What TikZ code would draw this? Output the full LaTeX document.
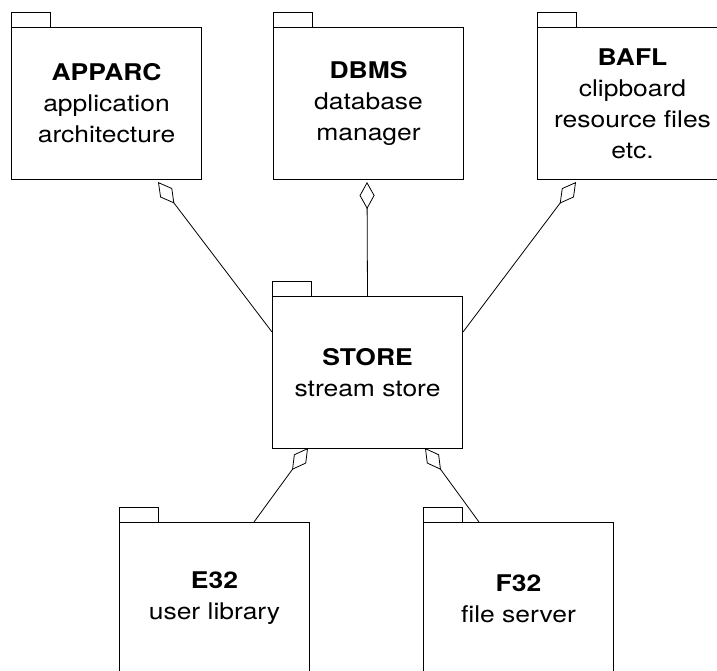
\documentclass[tikz,border=0pt]{standalone}
\usepackage{fontspec}
\setmainfont{TeX Gyre Heros}[FakeStretch=1.15]
\usetikzlibrary{arrows.meta}
\begin{document}
\begin{tikzpicture}[x=1pt,y=-1pt,
  pkg/.style={draw, line width=1pt, minimum width=190pt, minimum height=152pt,
    inner sep=0pt, anchor=north west, align=center,
    font=\fontsize{23}{31}\selectfont},
  tab/.style={draw, line width=0.8pt},
  agg/.style={line width=0.8pt, -{Diamond[open, length=27pt, width=15pt]}}]
\useasboundingbox (0,0) rectangle (717,671);
\clip (0,0) rectangle (717,671);
\fill[white] (0,0) rectangle (717,671);
% packages
\node[pkg] (apparc) at (11,27) {\textbf{APPARC}\\application\\architecture};
\node[pkg] (dbms) at (273,27) {\textbf{DBMS}\\database\\manager};
\node[pkg] (bafl) at (537,27) {\textbf{BAFL}\\clipboard\\resource files\\etc.};
\node[pkg] (store) at (272,296) {\textbf{STORE}\\stream store};
\node[pkg] (e32) at (119,522) {\textbf{E32}\\user library};
\node[pkg] (f32) at (423,522) {\textbf{F32}\\file server};
% tabs
\foreach \n in {apparc,dbms,bafl,store,e32,f32}
  \draw[tab] (\n.north west) rectangle ++(39,-15);
% connector end points
\coordinate (apparc tip) at (158,182);
\coordinate (bafl tip) at (576,182);
\coordinate (dbms tip) at (367,182);
\coordinate (store left) at (272,332);
\coordinate (store right) at (463,332);
\coordinate (store e32 tip) at (308,448);
\coordinate (store f32 tip) at (425,448);
\coordinate (e32 top) at (254,522);
\coordinate (f32 top) at (479,522);
% connectors
\draw[agg] (store left) -- (apparc tip);
\draw[agg] (store.north) -- (dbms tip);
\draw[agg] (store right) -- (bafl tip);
\draw[agg] (e32 top) -- (store e32 tip);
\draw[agg] (f32 top) -- (store f32 tip);
\end{tikzpicture}
\end{document}
